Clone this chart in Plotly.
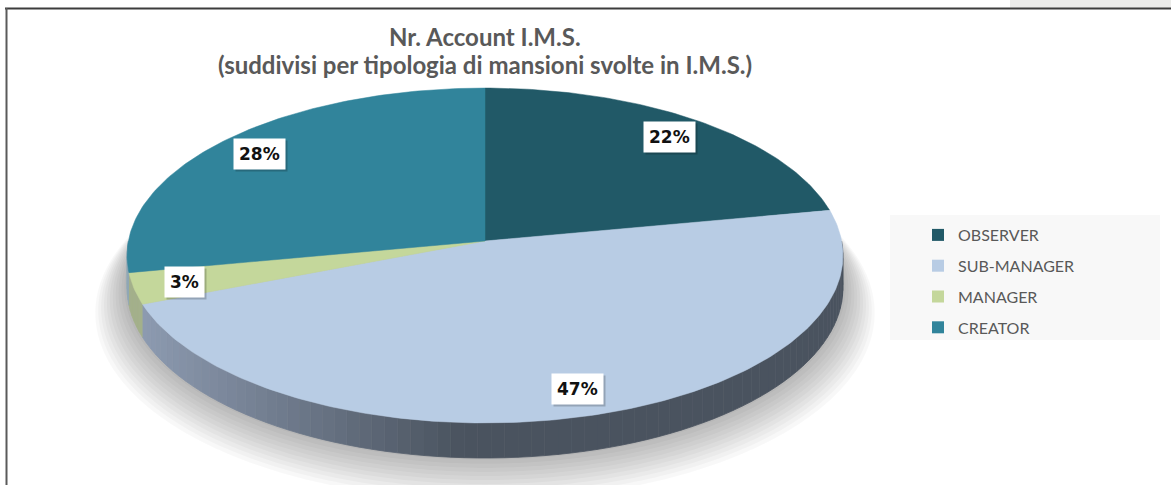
import numpy as np
import plotly.graph_objects as go

# ---------------- data ----------------
categories = ["OBSERVER", "SUB-MANAGER", "MANAGER", "CREATOR"]
values = [22, 47, 3, 28]
label_texts = ["22%", "47%", "3%", "28%"]
top_colors = ["#215967", "#b8cce4", "#c4d79b", "#31849b"]
side_light = ["#2f6f80", "#8d9bb1", "#a3b08a", "#8fa7b5"]
side_dark = ["#1a4652", "#4a535f", "#6f7a5a", "#5f7480"]
title_lines = ["Nr. Account I.M.S.", "(suddivisi per tipologia di mansioni svolte in I.M.S.)"]

# ---------------- geometry (pixel space) ----------------
W, H = 1171, 485
CX, CY = 485, 241
A, B, P = 356.6, 166.2, 0.0866
DEPTH = 32
LABEL_R = 0.86


def proj(theta_deg, r=1.0, drop=0.0):
    t = np.radians(theta_deg)
    u = r * np.sin(t)
    v = r * np.cos(t)
    den = 1 + P * v
    return CX + A * u / den, CY - B * v / den + drop / den


def hex2rgb(h):
    h = h.lstrip("#")
    return np.array([int(h[i:i + 2], 16) for i in (0, 2, 4)], dtype=float)


def mix(c1, c2, f):
    c = hex2rgb(c1) * (1 - f) + hex2rgb(c2) * f
    return "rgb(%d,%d,%d)" % tuple(c.round())


total = float(sum(values))
angles = np.concatenate([[0], np.cumsum(values) / total * 360.0])

fig = go.Figure()

# shadow
for i in range(12):
    r = 1.0 + 0.008 * i
    drop = 30 + 2.2 * i
    th = np.linspace(0, 360, 361)
    xs, ys = proj(th, r=r, drop=drop)
    fig.add_trace(go.Scatter(x=xs, y=ys, fill="toself", mode="none",
                             fillcolor="rgba(0,0,0,0.028)", hoverinfo="skip",
                             showlegend=False))

# sides (visible front half)
for i, cat in enumerate(categories):
    lo = max(angles[i], 90.0)
    hi = min(angles[i + 1], 270.0)
    if lo >= hi:
        continue
    n = max(1, int(np.ceil((hi - lo) / 2.0)))
    edges = np.linspace(lo, hi, n + 1)
    for j in range(n):
        th = np.linspace(edges[j], edges[j + 1], 6)
        tx, ty = proj(th)
        bx, by = proj(th[::-1], drop=DEPTH)
        xm = float(np.mean(tx))
        f = np.clip((xm - 140.0) / (460.0 - 140.0), 0, 1)
        col = mix(side_light[i], side_dark[i], f)
        fig.add_trace(go.Scatter(x=np.concatenate([tx, bx]), y=np.concatenate([ty, by]),
                                 fill="toself", mode="lines", line=dict(color=col, width=0.8),
                                 fillcolor=col, hoverinfo="skip", showlegend=False))

# top slices
for i, cat in enumerate(categories):
    th = np.linspace(angles[i], angles[i + 1], max(3, int(values[i] * 4)))
    ax_, ay_ = proj(th)
    xs = np.concatenate([[CX], ax_, [CX]])
    ys = np.concatenate([[CY], ay_, [CY]])
    fig.add_trace(go.Scatter(x=xs, y=ys, fill="toself", mode="lines",
                             line=dict(color=top_colors[i], width=0.5),
                             fillcolor=top_colors[i], name=cat, hoverinfo="skip",
                             showlegend=False))

# legend entries
for i, cat in enumerate(categories):
    fig.add_trace(go.Scatter(x=[None], y=[None], mode="markers", name=cat,
                             legendgroup=cat,
                             marker=dict(symbol="square", size=12, color=top_colors[i])))

# labels
for i, txt in enumerate(label_texts):
    mid = (angles[i] + angles[i + 1]) / 2.0
    lx, ly = proj(mid, r=LABEL_R)
    fig.add_annotation(x=float(lx), y=float(ly), xref="x", yref="y", text="<b>%s</b>" % txt,
                       showarrow=False, xshift=2, yshift=-2,
                       font=dict(family="DejaVu Sans", size=17, color="rgba(0,0,0,0)"),
                       bgcolor="rgba(0,0,0,0.2)", borderpad=5)
    fig.add_annotation(x=float(lx), y=float(ly), xref="x", yref="y",
                       text="<b>%s</b>" % txt, showarrow=False,
                       font=dict(family="DejaVu Sans", size=17, color="#111111"),
                       bgcolor="#ffffff", borderpad=5)

# title
fig.add_annotation(x=CX, y=36, xref="x", yref="y", text="<b>%s</b>" % title_lines[0],
                   showarrow=False, font=dict(family="Lato", size=24, color="#595959"))
fig.add_annotation(x=CX, y=64, xref="x", yref="y", text="<b>%s</b>" % title_lines[1],
                   showarrow=False, font=dict(family="Lato", size=24, color="#595959"))

shapes = [
    dict(type="rect", xref="x", yref="y", x0=1010, x1=W, y0=0, y1=8,
         fillcolor="#ebebe9", line=dict(width=0), layer="below"),
    dict(type="rect", xref="x", yref="y", x0=890, x1=1160, y0=215, y1=340,
         fillcolor="#f8f8f8", line=dict(width=0), layer="below"),
    dict(type="line", xref="x", yref="y", x0=5, x1=W, y0=8.5, y1=8.5,
         line=dict(color="#3c3c3c", width=2)),
    dict(type="line", xref="x", yref="y", x0=6.5, x1=6.5, y0=8, y1=H,
         line=dict(color="#5a5a5a", width=2)),
]

fig.update_layout(
    width=W, height=H, autosize=False,
    margin=dict(l=0, r=0, t=0, b=0),
    paper_bgcolor="#ffffff", plot_bgcolor="rgba(0,0,0,0)",
    xaxis=dict(range=[0, W], visible=False, fixedrange=True),
    yaxis=dict(range=[H, 0], visible=False, fixedrange=True),
    shapes=shapes,
    showlegend=True,
    legend=dict(x=918 / W, y=1 - 218 / H, xanchor="left", yanchor="top",
                bgcolor="rgba(0,0,0,0)", traceorder="grouped", tracegroupgap=7,
                font=dict(family="Lato", size=16, color="#595959")),
)

fig.write_html("out.html", config={"displayModeBar": False},
               post_script="document.body.style.margin='0';document.body.style.overflow='hidden';")
